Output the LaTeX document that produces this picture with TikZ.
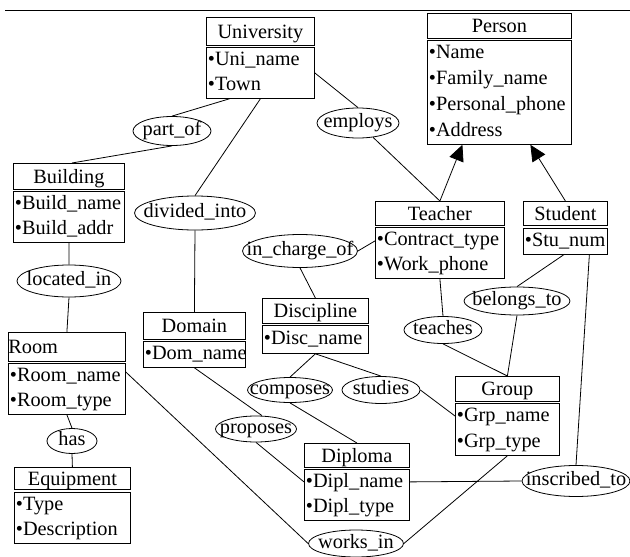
\documentclass[tikz,border=0pt]{standalone}
\usepackage{fontspec}
\setmainfont{Liberation Serif}
\usetikzlibrary{shapes.geometric,arrows.meta}
\newcommand\attrow{\strut•}
\begin{document}
\begin{tikzpicture}[x=1pt,y=-1pt,
  every node/.style={font=\fontsize{20.3pt}{25.5pt}\selectfont, inner sep=0pt, line width=0.8pt},
  ttl/.style={draw, anchor=north west, text height=13.5pt, text depth=0pt},
  att/.style={draw, anchor=north west, align=left, inner xsep=1.5pt},
  rel/.style={draw, ellipse, inner xsep=-90pt, inner ysep=-20pt, text height=13pt, text depth=4pt},
  con/.style={line width=0.8pt},
  isa/.style={con, -{Triangle[length=16pt,width=15pt]}}]
\useasboundingbox (0,0) rectangle (630,557);
\draw[line width=1.2pt] (5,10.5) -- (630,10.5);

% entities
\node[ttl, minimum width=108pt, minimum height=28pt] (uniT) at (206,17) {University};
\node[att, minimum width=108pt, minimum height=51pt, text width=105pt] (uniA) at (206,47) {\attrow Uni\_name\\\attrow Town};

\node[ttl, minimum width=144pt, minimum height=25pt] (persT) at (427,13) {Person};
\node[att, minimum width=144pt, minimum height=104pt, text width=141pt, font=\fontsize{20.3pt}{26pt}\selectfont] (persA) at (427,40) {\attrow Name\\\attrow Family\_name\\\attrow Personal\_phone\\\attrow Address};

\node[ttl, minimum width=111pt, minimum height=26pt] (bldT) at (13,163) {Building};
\node[att, minimum width=111pt, minimum height=51pt, text width=108pt] (bldA) at (13,191) {\attrow Build\_name\\\attrow Build\_addr};

\node[ttl, minimum width=129pt, minimum height=24pt] (teachT) at (375,201) {Teacher};
\node[att, minimum width=129pt, minimum height=51pt, text width=126pt] (teachA) at (375,227) {\attrow Contract\_type\\\attrow Work\_phone};

\node[ttl, minimum width=84pt, minimum height=24pt] (studT) at (523,201) {Student};
\node[att, minimum width=84pt, minimum height=25.5pt, text width=81pt] (studA) at (523,228) {\attrow Stu\_num};

\node[ttl, minimum width=117pt, minimum height=29pt, align=left, text width=117pt] (roomT) at (8,332) {Room};
\node[att, minimum width=117pt, minimum height=49pt, text width=114pt] (roomA) at (8,363) {\attrow Room\_name\\\attrow Room\_type};

\node[ttl, minimum width=102pt, minimum height=27pt] (domT) at (143,312) {Domain};
\node[att, minimum width=102pt, minimum height=26pt, text width=99pt] (domA) at (143,341) {\attrow Dom\_name};

\node[ttl, minimum width=106pt, minimum height=25pt] (discT) at (262,298) {Discipline};
\node[att, minimum width=106pt, minimum height=28pt, text width=103pt] (discA) at (262,325) {\attrow Disc\_name};

\node[ttl, minimum width=104pt, minimum height=25pt] (grpT) at (455,376) {Group};
\node[att, minimum width=104pt, minimum height=52pt, text width=101pt] (grpA) at (455,403) {\attrow Grp\_name\\\attrow Grp\_type};

\node[ttl, minimum width=105pt, minimum height=24pt] (diplT) at (304,443) {Diploma};
\node[att, minimum width=105pt, minimum height=50pt, text width=102pt] (diplA) at (304,469) {\attrow Dipl\_name\\\attrow Dipl\_type};

\node[ttl, minimum width=116pt, minimum height=22pt] (equipT) at (14,467) {Equipment};
\node[att, minimum width=116pt, minimum height=51pt, text width=113pt] (equipA) at (14,492) {\attrow Type\\\attrow Description};

% relationships
\node[rel, minimum width=78pt, minimum height=29pt] (partof) at (172,131) {part\_of};
\node[rel, minimum width=82pt, minimum height=30pt] (employs) at (358,123) {employs};
\node[rel, minimum width=121pt, minimum height=34pt] (divided) at (195,213) {divided\_into};
\node[rel, minimum width=104pt, minimum height=32pt] (located) at (69,281) {located\_in};
\node[rel, minimum width=115pt, minimum height=33pt] (incharge) at (300,251) {in\_charge\_of};
\node[rel, minimum width=78pt, minimum height=27pt] (teaches) at (443,330) {teaches};
\node[rel, minimum width=106pt, minimum height=28pt] (belongs) at (517,301) {belongs\_to};
\node[rel, minimum width=85pt, minimum height=25pt] (composes) at (290,390) {composes};
\node[rel, minimum width=78pt, minimum height=27pt] (studies) at (381,390) {studies};
\node[rel, minimum width=81pt, minimum height=26pt] (proposes) at (256,429) {proposes};
\node[rel, minimum width=50pt, minimum height=25pt] (has) at (72,441) {has};
\node[rel, minimum width=95pt, minimum height=27pt] (works) at (356,543.5) {works\_in};
\node[rel, minimum width=108pt, minimum height=31pt] (inscribed) at (576,481) {inscribed\_to};

% connectors
\draw[con] ([xshift=-31pt]uniA.south) -- (partof.north);
\draw[con] (partof.south) -- ([xshift=3pt]bldT.north);
\draw[con] (uniA.east) -- (employs.north);
\draw[con] (employs) -- (teachT.north);
\draw[isa] (teachT.north) -- ([xshift=-37pt]persA.south);
\draw[isa] (studT.north) -- ([xshift=31pt]persA.south);
\draw[con] (uniA.south) -- (divided.north);
\draw[con] (divided.south) -- (domT.north);
\draw[con] (bldA.south) -- (located.north);
\draw[con] (located.south) -- (roomT.north);
\draw[con] (roomA.south) -- (has.north);
\draw[con] (has.south) -- (equipT.north);
\draw[con] ([yshift=-9pt]roomA.north east) -- (works.west);
\draw[con] (works.east) -- (grpA.south);
\draw[con] (domA.south) -- ([xshift=6pt]proposes.north);
\draw[con] (proposes.south) -- ([yshift=13pt]diplA.west);
\draw[con] ([yshift=13pt]diplA.east) -- (inscribed.west);
\draw[con] (inscribed.north) -- ([xshift=24pt]studA.south);
\draw[con] ([xshift=-1pt]studA.south) -- (belongs.north);
\draw[con] (belongs.south) -- (grpT.north);
\draw[con] (teachA.south) -- (teaches.north);
\draw[con] (teaches.south) -- (grpT.north);
\draw[con] ([yshift=12pt]teachA.west) -- (incharge.east);
\draw[con] (incharge.south) -- (discT.north);
\draw[con] (discA.south) -- (composes.north);
\draw[con] (discA.south) -- (studies.north);
\draw[con] (composes.south) -- (diplT.north);
\draw[con] (studies.east) -- ([yshift=-13pt]grpA.north west);
\end{tikzpicture}
\end{document}
